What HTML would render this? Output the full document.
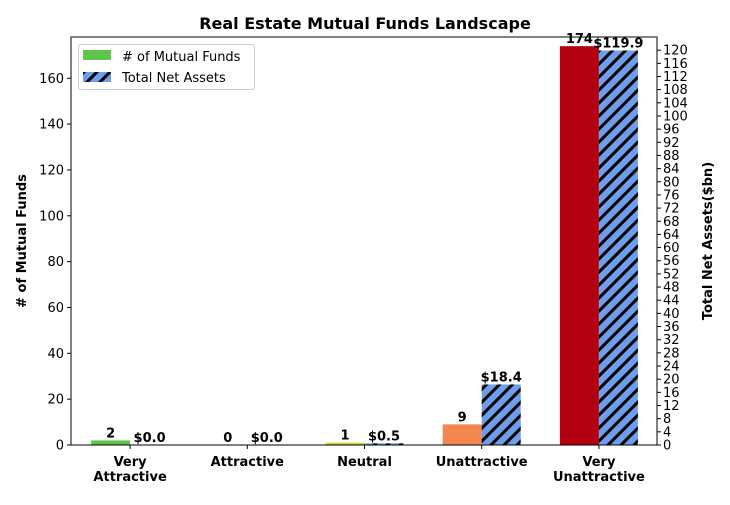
<!DOCTYPE html>
<html><head><meta charset="utf-8"><style>
body{margin:0;background:#fff;font-family:"Liberation Sans","DejaVu Sans",sans-serif}
svg text{font-family:"DejaVu Sans","Liberation Sans",sans-serif}
</style></head><body>
<svg id="c" width="730" height="500" xmlns="http://www.w3.org/2000/svg">
<defs><pattern id="hatch" patternUnits="userSpaceOnUse" width="13" height="13" patternTransform="rotate(0)">
<rect width="13" height="13" fill="#6d9eeb"/>
<path d="M-3,16 L16,-3 M-3,3 L3,-3 M10,16 L16,10" stroke="#000" stroke-width="3"/>
</pattern></defs>
</svg>
<script>
const categories=["Very\nAttractive","Attractive","Neutral","Unattractive","Very\nUnattractive"];
const fundCounts=[2,0,1,9,174];
const netAssets=[0.0,0.0,0.5,18.4,119.9];
const fundColors=["#5ec64b","#7fbf3f","#d4d42a","#f4874f","#b30010"];
const leftTicks=[0,20,40,60,80,100,120,140,160];
const rightTicks=[];for(let v=0;v<=120;v+=4)rightTicks.push(v);
const svg=document.getElementById('c');const NS='http://www.w3.org/2000/svg';
const L=71,R=657,T=37,B=445,LMAX=178,RMAX=124;
const yL=v=>B-(B-T)*v/LMAX, yR=v=>B-(B-T)*v/RMAX;
const step=(R-L)/categories.length, xC=i=>L+step*(i+0.5)+0.5, bw=39;
function mk(t,a,txt){const e=document.createElementNS(NS,t);for(const k in a)e.setAttribute(k,a[k]);if(txt!==undefined)e.textContent=txt;svg.appendChild(e);return e;}
categories.forEach((c,i)=>{
 const x=xC(i);
 const b1=mk('rect',{x:x-bw,y:yL(fundCounts[i]),width:bw,height:B-yL(fundCounts[i]),fill:fundColors[i]});
 
 
 const b2=mk('rect',{x:x,y:yR(netAssets[i]),width:bw,height:B-yR(netAssets[i]),fill:'url(#hatch)'});
 
 
 const t1=mk('text',{x:x-bw/2,y:yL(fundCounts[i])-3,'text-anchor':'middle','font-size':13,'font-weight':'bold'},String(fundCounts[i]));
 
 
 const t2=mk('text',{x:x+bw/2,y:yR(netAssets[i])-3,'text-anchor':'middle','font-size':13,'font-weight':'bold'},'$'+netAssets[i].toFixed(1));
 
 
 mk('line',{x1:x,x2:x,y1:B,y2:B+4,stroke:'#000'});
 c.split('\n').forEach((ln,j)=>{const t=mk('text',{x:x,y:B+21+j*15,'text-anchor':'middle','font-size':13,'font-weight':'bold'},ln);
  
  });
});
mk('rect',{x:L,y:T,width:R-L,height:B-T,fill:'none',stroke:'#000','stroke-width':1});
leftTicks.forEach(v=>{const y=yL(v);mk('line',{x1:L-4,x2:L,y1:y,y2:y,stroke:'#000'});
 const t=mk('text',{x:L-7,y:y+4.5,'text-anchor':'end','font-size':13},String(v));
 
 });
rightTicks.forEach(v=>{const y=yR(v);mk('line',{x1:R,x2:R+4,y1:y,y2:y,stroke:'#000'});
 const t=mk('text',{x:R+6,y:y+4.5,'text-anchor':'start','font-size':13},String(v));
 
 });
</script>
<svg style="position:absolute;left:0;top:0" width="730" height="500">
<text x="365" y="29" text-anchor="middle" font-size="16" font-weight="bold" font-family="DejaVu Sans,sans-serif">Real Estate Mutual Funds Landscape</text>
<text transform="translate(26,241) rotate(-90)" text-anchor="middle" font-size="13" font-weight="bold" font-family="DejaVu Sans,sans-serif"># of Mutual Funds</text>
<text transform="translate(712,241) rotate(-90)" text-anchor="middle" font-size="13" font-weight="bold" font-family="DejaVu Sans,sans-serif">Total Net Assets($bn)</text>
<g>
<rect x="78.5" y="44.5" width="176" height="45" rx="3" fill="#fff" stroke="#ccc"/>
<rect x="83" y="50" width="28" height="10" fill="#5ec64b"/>
<text x="122" y="61" font-size="13" font-family="DejaVu Sans,sans-serif"># of Mutual Funds</text>
<rect x="83" y="72" width="28" height="10" fill="url(#hatch)"/>
<text x="122" y="82" font-size="13" font-family="DejaVu Sans,sans-serif">Total Net Assets</text>
</g>
</svg>
</body></html>
